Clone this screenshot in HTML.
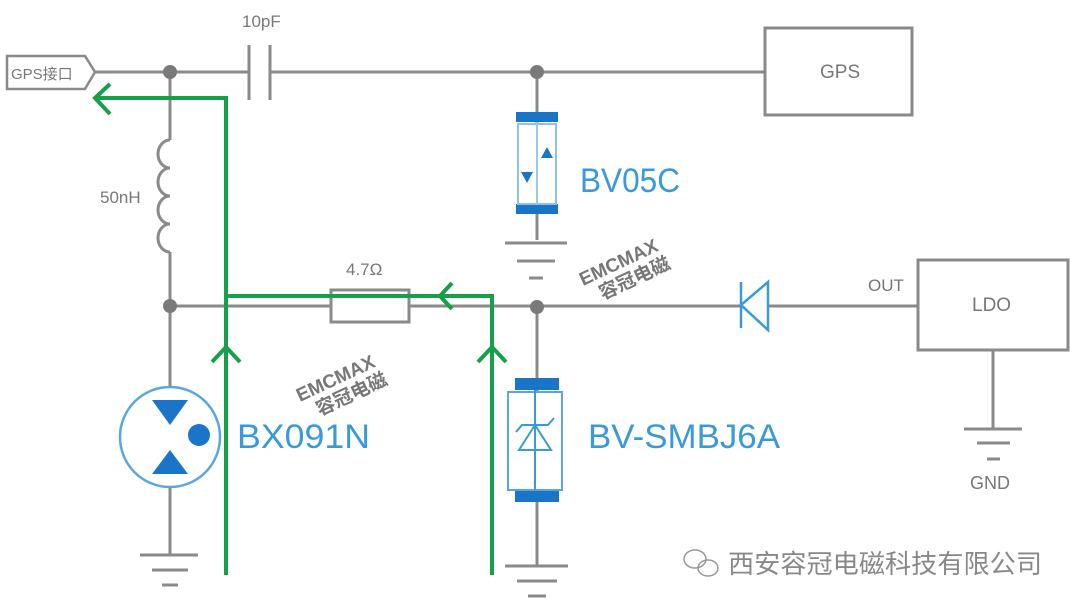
<!DOCTYPE html>
<html><head><meta charset="utf-8"><style>
html,body{margin:0;padding:0;background:#fff;}
svg{display:block;}
text{font-family:"Liberation Sans","Noto Sans CJK SC",sans-serif;}
</style></head><body>
<svg width="1080" height="611" viewBox="0 0 1080 611" xmlns="http://www.w3.org/2000/svg">
<g stroke="#8a8a8a" stroke-width="3" fill="none">
<line x1="95" y1="72" x2="249" y2="72"/>
<line x1="270" y1="72" x2="765" y2="72"/>
<line x1="249" y1="45" x2="249" y2="100"/>
<line x1="270" y1="45" x2="270" y2="100"/>
<polygon points="7,56 85,56 95,72 85,89 7,89" stroke-width="2.5"/>
<rect x="765" y="28" width="147" height="87"/>
<line x1="170" y1="72" x2="170" y2="140"/>
<path d="M170 140 a12 14 0 0 0 0 28 a12 14 0 0 0 0 28 a12 14 0 0 0 0 28 a12 14 0 0 0 0 28"/>
<line x1="170" y1="252" x2="170" y2="387"/>
<line x1="170" y1="487" x2="170" y2="555"/>
<line x1="140" y1="555" x2="198" y2="555"/>
<line x1="152" y1="570" x2="188" y2="570"/>
<line x1="162" y1="585" x2="178" y2="585"/>
<line x1="170" y1="306" x2="331" y2="306"/>
<line x1="409" y1="306" x2="740" y2="306"/>
<line x1="768" y1="306" x2="918" y2="306"/>
<rect x="331" y="290" width="78" height="32"/>
<line x1="537" y1="72" x2="537" y2="240"/>
<line x1="505" y1="243" x2="567" y2="243"/>
<line x1="517" y1="261" x2="555" y2="261"/>
<line x1="529" y1="278" x2="543" y2="278"/>
<line x1="537" y1="307" x2="537" y2="565"/>
<line x1="505" y1="566" x2="568" y2="566"/>
<line x1="517" y1="581" x2="557" y2="581"/>
<line x1="528" y1="596" x2="546" y2="596"/>
<rect x="918" y="260" width="150" height="90"/>
<line x1="993" y1="350" x2="993" y2="428"/>
<line x1="964" y1="429" x2="1022" y2="429"/>
<line x1="977" y1="443" x2="1010" y2="443"/>
<line x1="987" y1="459" x2="1000" y2="459"/>
</g>
<g fill="#7a7a7a">
<circle cx="170" cy="72" r="7"/><circle cx="537" cy="72" r="7"/>
<circle cx="170" cy="306" r="7"/><circle cx="537" cy="307" r="7"/>
</g>
<g stroke="#3a9ad9" stroke-width="2.5" fill="#fff">
<line x1="741" y1="282" x2="741" y2="328"/>
<polygon points="741,305 768,282 768,330"/>
</g>
<g>
<rect x="516" y="112" width="42" height="10" fill="#1a74c8"/>
<rect x="516" y="204" width="42" height="10" fill="#1a74c8"/>
<rect x="518" y="124" width="38" height="80" fill="#fff" stroke="#8ec0e8" stroke-width="2"/>
<line x1="537" y1="122" x2="537" y2="204" stroke="#9cc8ec" stroke-width="2"/>
<polygon points="541,158 553,158 547,147" fill="#1a74c8"/>
<polygon points="521,172 533,172 527,183" fill="#1a74c8"/>
</g>
<g>
<rect x="515" y="378" width="44" height="12" fill="#1a74c8"/>
<rect x="515" y="490" width="44" height="12" fill="#1a74c8"/>
<rect x="508" y="392" width="54" height="98" fill="#fff" stroke="#5aa6e0" stroke-width="2"/>
<line x1="535" y1="390" x2="535" y2="490" stroke="#3a9ad9" stroke-width="2"/>
<polygon points="535,425 519,450 551,450" fill="none" stroke="#3a9ad9" stroke-width="2"/>
<polyline points="516,432 522,425 548,425 554,418" fill="none" stroke="#3a9ad9" stroke-width="2"/>
</g>
<circle cx="170" cy="437" r="50" fill="#fff" stroke="#5aa6e0" stroke-width="2.5"/>
<polygon points="152,400 188,400 170,425" fill="#1a74c8"/>
<polygon points="152,474 188,474 170,450" fill="#1a74c8"/>
<circle cx="199" cy="435" r="11" fill="#1a74c8"/>
<g stroke="#17a04a" stroke-width="4" fill="none">
<polyline points="95,98 226,98 226,575"/>
<polyline points="110,84 95,98 110,114"/>
<polyline points="226,296 492,296 492,575"/>
<polyline points="452,283 440,296 452,309"/>
<polyline points="212,362 226,347 240,362"/>
<polyline points="478,362 492,347 506,362"/>
</g>
<g fill="#777">
<text x="11" y="79" font-size="15">GPS接口</text>
<text x="242" y="27" font-size="17">10pF</text>
<text x="100" y="203" font-size="17">50nH</text>
<text x="346" y="275" font-size="17">4.7Ω</text>
<text x="820" y="78" font-size="19">GPS</text>
<text x="972" y="311" font-size="19">LDO</text>
<text x="868" y="291" font-size="17">OUT</text>
<text x="970" y="489" font-size="18">GND</text>
</g>
<g fill="#3a9ad9" font-size="34">
<text x="580" y="192" textLength="100" lengthAdjust="spacingAndGlyphs">BV05C</text>
<text x="237" y="448" textLength="133" lengthAdjust="spacingAndGlyphs">BX091N</text>
<text x="588" y="448" textLength="192" lengthAdjust="spacingAndGlyphs">BV-SMBJ6A</text>
</g>
<g fill="#777" font-weight="bold" font-size="19">
<g transform="translate(583,286) rotate(-25)"><text x="0" y="0">EMCMAX</text><text x="12" y="21">容冠电磁</text></g>
<g transform="translate(300,402) rotate(-25)"><text x="0" y="0">EMCMAX</text><text x="12" y="21">容冠电磁</text></g>
</g>
<g stroke="#999" stroke-width="1.5" fill="none">
<ellipse cx="695" cy="559" rx="11" ry="9"/>
<ellipse cx="708" cy="568" rx="10" ry="8"/>
</g>
<text x="728" y="573" font-size="26" fill="#888" textLength="314" lengthAdjust="spacingAndGlyphs">西安容冠电磁科技有限公司</text>
</svg>
</body></html>
